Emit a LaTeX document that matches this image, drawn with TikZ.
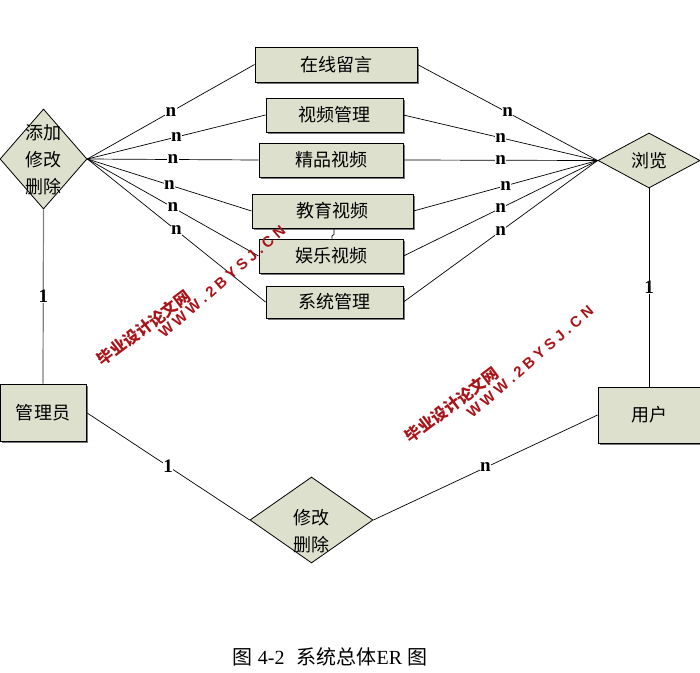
\documentclass[tikz,border=0pt]{standalone}
\usepackage{fontspec}
\setmainfont{Liberation Serif}
\newfontfamily\cjk{Noto Sans CJK SC}
\newfontfamily\wmsans{Liberation Sans}
\usetikzlibrary{shapes.geometric,shadows}
\definecolor{boxfill}{RGB}{221,224,204}
\definecolor{wmred}{RGB}{170,20,25}
\definecolor{shadowgray}{RGB}{120,120,120}
\newcommand{\wmk}{\kern3.8pt }
\newcommand{\wmurl}{W\wmk W\wmk W\wmk .\wmk 2\wmk B\wmk Y\wmk S\wmk J\wmk .\wmk C\wmk N}
\begin{document}
\begin{tikzpicture}[x=1pt,y=-1pt,
 entity/.style={draw=black, line width=0.9pt, fill=boxfill, inner sep=0pt,
   font=\cjk\fontsize{18}{20}\selectfont,
   drop shadow={shadow xshift=1.5pt,shadow yshift=-1.5pt,fill=shadowgray,opacity=1}},
 rel/.style={diamond, draw=black, line width=0.8pt, fill=boxfill, inner sep=0pt},
 reltext/.style={font=\cjk\fontsize{18}{27}\selectfont, align=center, inner sep=0pt},
 conn/.style={draw=black, line width=0.7pt},
 card/.style={fill=white, inner sep=0.5pt, font=\bfseries\fontsize{19}{19}\selectfont},
 wmcn/.style={text=wmred, inner sep=0pt, font=\cjk\bfseries\fontsize{16}{16}\selectfont},
 wmen/.style={text=wmred, inner sep=0pt, font=\wmsans\bfseries\fontsize{15}{15}\selectfont}
]
\useasboundingbox[fill=white] (0,0) rectangle (700,672);

% entities
\node[entity, minimum width=162pt, minimum height=35pt] (zx) at (336,64.5) {在线留言};
\node[entity, minimum width=137pt, minimum height=34pt] (sp) at (334.5,115) {视频管理};
\node[entity, minimum width=144pt, minimum height=34pt] (jp) at (331,160) {精品视频};
\node[entity, minimum width=161pt, minimum height=34pt] (jy) at (332.5,211) {教育视频};
\node[entity, minimum width=144pt, minimum height=34pt] (yl) at (331,256) {娱乐视频};
\node[entity, minimum width=137pt, minimum height=32pt] (xt) at (334.5,302) {系统管理};
\node[entity, minimum width=86pt, minimum height=57pt] (gly) at (43,412.5) {管理员};
\node[entity, minimum width=102pt, minimum height=56pt] (yh) at (649,415) {用户};

% relationships
\node[rel, minimum width=87pt, minimum height=100pt] (d1) at (43.5,159) {};
\node[reltext] (d1t) at (43,160) {添加\\修改\\删除};
\node[rel, minimum width=102pt, minimum height=55pt] (d2) at (649,160.5) {};
\node[reltext] (d2t) at (649,161) {浏览};
\node[rel, minimum width=123pt, minimum height=86pt] (d3) at (311.5,520) {};
\node[reltext] (d3t) at (311,531) {修改\\删除};

% connectors
\foreach \r in {zx,sp,jp,jy,yl,xt} {
  \draw[conn] (d1.east) -- node[card]{n} (\r.west);
  \draw[conn] (d2.west) -- node[card]{n} (\r.east);
}
\draw[conn] ([xshift=1.5pt]jy.south) -- ++(0,6) -- ++(-2,1.5) -- ([xshift=1pt]yl.north);
\draw[conn, draw=gray, line width=1.2pt] (d1.south) -- node[card]{1} (gly.north);
\draw[conn] (d2.south) -- node[card]{1} (yh.north);
\draw[conn] (gly.east) -- node[card]{1} (d3.west);
\draw[conn] (yh.west) -- node[card]{n} (d3.east);

% watermarks
\node[wmcn, rotate=37] (wm1a) at (144,328) {毕业设计论文网};
\node[wmen, rotate=41] (wm1b) at (222,282) {\wmurl};
\node[wmcn, rotate=37] (wm2a) at (452,405) {毕业设计论文网};
\node[wmen, rotate=41] (wm2b) at (530,362) {\wmurl};

% caption
\node[font=\cjk\fontsize{20}{20}\selectfont, inner sep=0pt] (cap) at (330,657)
  {图\hspace{5pt}{\rmfamily 4-2}\hspace{12pt}系统总体{\rmfamily ER}\hspace{5pt}图};
\end{tikzpicture}
\end{document}
